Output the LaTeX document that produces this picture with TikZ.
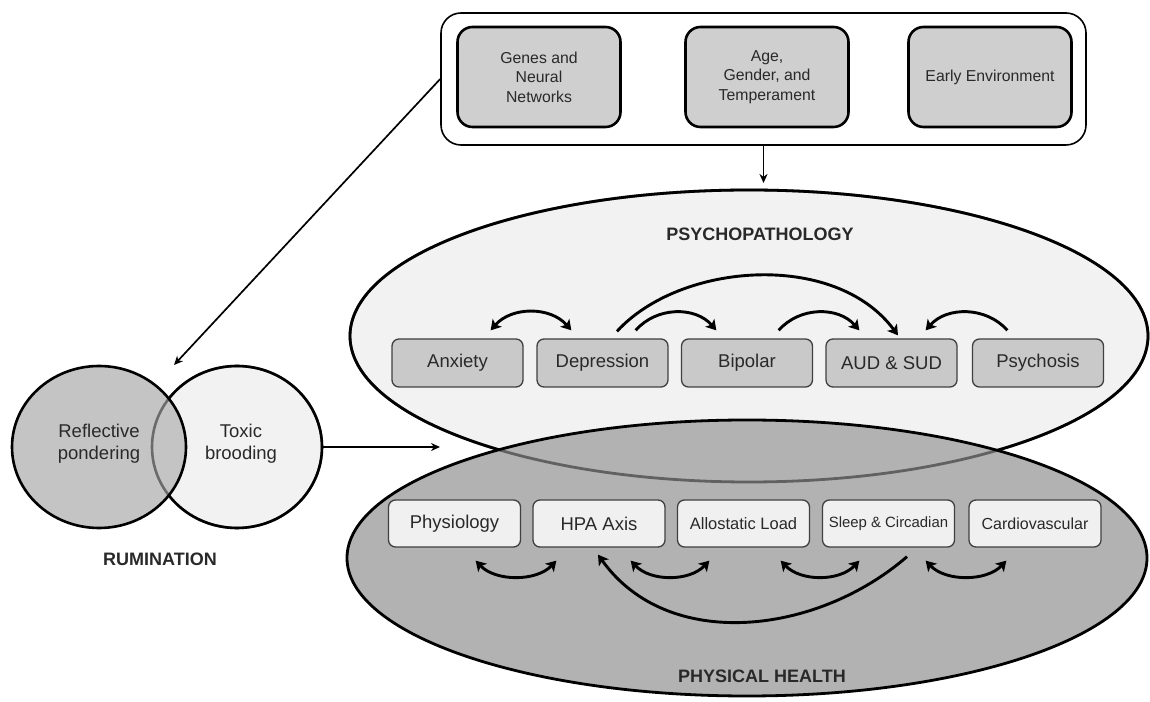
\documentclass[tikz,border=0pt]{standalone}
\usepackage{fontspec}
\setmainfont{Liberation Sans}
\usetikzlibrary{arrows.meta,calc,shapes.geometric}
\definecolor{txt}{gray}{0.16}
\definecolor{topg}{gray}{0.81}
\definecolor{psyg}{gray}{0.79}
\definecolor{hboxg}{gray}{0.94}
\definecolor{psyell}{gray}{0.95}
\definecolor{hell}{gray}{0.70}
\definecolor{darkc}{gray}{0.77}
\definecolor{lightc}{gray}{0.95}
\definecolor{bord}{gray}{0.25}
\begin{document}
\begin{tikzpicture}[x=1pt,y=1pt,
  outerbox/.style={draw=black, line width=1.6pt, rounded corners=20pt, minimum width=645pt, minimum height=132pt, inner sep=0pt},
  topbox/.style={draw=black, fill=topg, line width=2.6pt, rounded corners=15pt, minimum width=163pt, minimum height=100pt, align=center, text=txt, font=\fontsize{15.8}{19.5}\selectfont, inner sep=0pt},
  pbox/.style={draw=bord, fill=psyg, line width=1.3pt, rounded corners=7pt, minimum width=131pt, minimum height=48pt, inner sep=0pt, text=txt, font=\fontsize{18.5}{22}\selectfont},
  hbox/.style={pbox, fill=hboxg, minimum height=47pt, minimum width=132pt},
  curvy/.style={line width=2.9pt, draw=black},
  onetip/.style={-{Stealth[length=10pt,width=12pt,inset=2.5pt]}},
  twotip/.style={{Stealth[length=10pt,width=12pt,inset=2.5pt]}-{Stealth[length=10pt,width=12pt,inset=2.5pt]}},
  thinarrow/.style={line width=1.7pt, -{Stealth[length=9pt,width=8pt]}},
  lbl/.style={font=\bfseries\fontsize{18}{22}\selectfont, text=txt},
  ctext/.style={align=center, text=txt, font=\fontsize{18.5}{22}\selectfont}
]
\useasboundingbox (0,0) rectangle (1150,701);

% big ellipses
\node[ellipse, fill=psyell, draw=black, line width=2.8pt, minimum width=798pt, minimum height=292pt, inner sep=0pt] (psyE) at (749,365) {};
\node[ellipse, fill=hell, minimum width=800pt, minimum height=276pt, inner sep=0pt] (phyE) at (747,143) {};
\draw[line width=2.8pt, draw opacity=0.45] (749,365) ellipse [x radius=399, y radius=146];
\draw[line width=2.8pt] (747,143) ellipse [x radius=400, y radius=138];

\node[lbl] (psylbl) at (760,467) {PSYCHOPATHOLOGY};
\node[lbl] (phylbl) at (762,25) {PHYSICAL HEALTH};

% rumination circles
\node[ellipse, fill=lightc, draw=black, line width=2.6pt, minimum width=170pt, minimum height=162pt, inner sep=0pt] (toxc) at (237,254) {};
\node[ellipse, fill=darkc, minimum width=174pt, minimum height=162pt, inner sep=0pt] (refc) at (99,254) {};
\draw[line width=2.6pt, draw opacity=0.45] (237,254) ellipse [x radius=85, y radius=81];
\draw[line width=2.6pt] (99,254) ellipse [x radius=87, y radius=81];
\node[ctext] (refl) at (99,257) {Reflective\\pondering};
\node[ctext] (tox) at (241,257) {Toxic\\brooding};
\node[lbl] (rum) at (160,142) {RUMINATION};

% top box
\node[outerbox] (outer) at (763.5,622) {};
\node[topbox] (genes) at (539,624) {Genes and\\Neural\\Networks};
\node[topbox] (age) at (767,624) {Age,\\Gender, and\\Temperament};
\node[topbox] (env) at (990,624) {Early Environment};

% psychopathology boxes
\node[pbox] (anx) at (457.5,338) {Anxiety};
\node[pbox] (dep) at (602.5,338) {Depression};
\node[pbox] (bip) at (747,338) {Bipolar};
\node[pbox] (aud) at (891.5,338) {AUD \& SUD};
\node[pbox] (psy) at (1038,338) {Psychosis};

% physical health boxes
\node[hbox] (phy) at (454.5,177.5) {Physiology};
\node[hbox] (hpa) at (599,177.5) {HPA Axis};
\node[hbox, font=\fontsize{16.5}{20}\selectfont] (all) at (743.5,177.5) {Allostatic Load};
\node[hbox, font=\fontsize{14.9}{18}\selectfont] (slp) at (888.5,177.5) {Sleep \& Circadian};
\node[hbox, font=\fontsize{16}{20}\selectfont] (car) at (1035,177.5) {Cardiovascular};

% straight arrows
\coordinate (pstop) at (763.5,518);
\coordinate (ellin) at (440,254);
\coordinate (rumtop) at (174,336);
\draw[thinarrow] (outer.south) -- (pstop);
\draw[thinarrow] (toxc.east) -- (ellin);
\draw[thinarrow] (outer.west) -- (rumtop);

% psychopathology curved arrows
\coordinate (a1) at ([shift={(-33,8)}]anx.north east);
\coordinate (a2) at ([shift={(35,8)}]dep.north west);
\coordinate (d1) at ([shift={(-33,8)}]dep.north east);
\coordinate (d2) at ([shift={(35.5,8)}]bip.north west);
\coordinate (e1) at ([shift={(-34.5,8)}]bip.north east);
\coordinate (e2) at ([shift={(34,8)}]aud.north west);
\coordinate (f1) at ([shift={(35.5,8)}]psy.north west);
\coordinate (f2) at ([shift={(-32,8)}]aud.north east);
\coordinate (b1) at ([shift={(14.5,7)}]dep.north);
\coordinate (b2) at ([shift={(6.5,3)}]aud.north);
\draw[curvy,twotip] (a1) .. controls ($(a1)+(21,24)$) and ($(a2)+(-21,24)$) .. (a2);
\draw[curvy,onetip] (d1) .. controls ($(d1)+(21,24)$) and ($(d2)+(-21,24)$) .. (d2);
\draw[curvy,onetip] (e1) .. controls ($(e1)+(21,24)$) and ($(e2)+(-21,24)$) .. (e2);
\draw[curvy,onetip] (f1) .. controls ($(f1)+(-21,24)$) and ($(f2)+(21,24)$) .. (f2);
\draw[curvy,onetip] (b1) .. controls ($(b1)+(63,69)$) and ($(b2)+(-63,85)$) .. (b2);

% physical health curved arrows
\coordinate (g1) at ([shift={(-45.5,-13)}]phy.south east);
\coordinate (g2) at ([shift={(24,-13)}]hpa.south west);
\coordinate (h1) at ([shift={(-35,-13)}]hpa.south east);
\coordinate (h2) at ([shift={(32.5,-13)}]all.south west);
\coordinate (i1) at ([shift={(-29.5,-13)}]all.south east);
\coordinate (i2) at ([shift={(37.5,-13)}]slp.south west);
\coordinate (j1) at ([shift={(-29.5,-13)}]slp.south east);
\coordinate (j2) at ([shift={(38,-13)}]car.south west);
\coordinate (s1) at ([shift={(18.5,-9)}]slp.south);
\coordinate (s2) at ([shift={(-1,-7)}]hpa.south);
\draw[curvy,twotip] (g1) .. controls ($(g1)+(20,-21)$) and ($(g2)+(-20,-21)$) .. (g2);
\draw[curvy,twotip] (h1) .. controls ($(h1)+(20,-21)$) and ($(h2)+(-20,-21)$) .. (h2);
\draw[curvy,twotip] (i1) .. controls ($(i1)+(20,-21)$) and ($(i2)+(-20,-21)$) .. (i2);
\draw[curvy,twotip] (j1) .. controls ($(j1)+(20,-21)$) and ($(j2)+(-20,-21)$) .. (j2);
\draw[curvy,onetip] (s1) .. controls ($(s1)+(-90,-78)$) and ($(s2)+(70,-98)$) .. (s2);
\end{tikzpicture}
\end{document}
